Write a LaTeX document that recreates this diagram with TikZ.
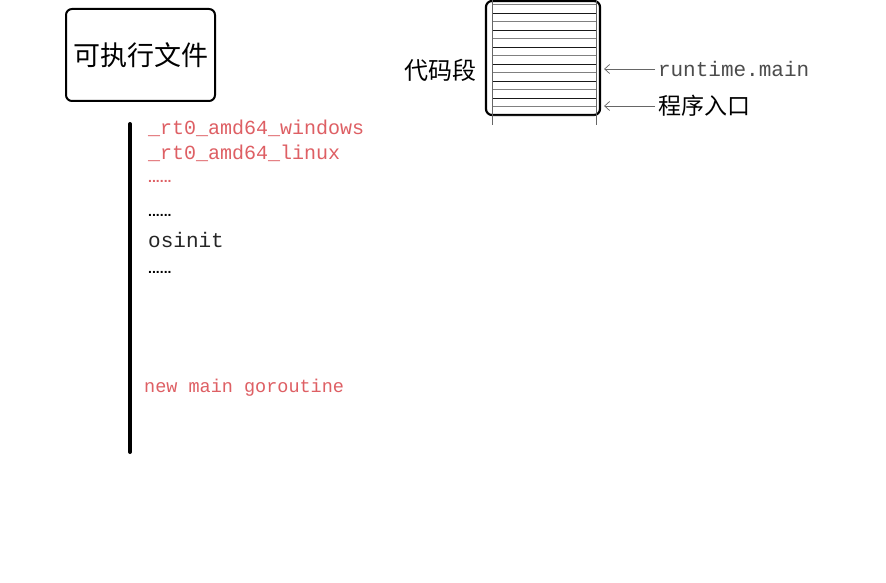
\documentclass[tikz,border=0pt]{standalone}
\usepackage{fontspec}
\usetikzlibrary{arrows.meta}
\setmainfont{Liberation Serif}
\setmonofont{Liberation Mono}
\setsansfont{Liberation Sans}
\newfontfamily\cjk{Noto Sans CJK SC}
\begin{document}
\begin{tikzpicture}[x=1pt,y=-1pt,
  redtxt/.style={text=redc, font=\ttfamily\fontsize{20}{20}\selectfont, anchor=west, inner sep=0pt},
  blktxt/.style={text=black!85, font=\ttfamily\fontsize{21}{21}\selectfont, anchor=west, inner sep=0pt},
  dots/.style={font=\sffamily\bfseries\fontsize{14}{14}\selectfont, anchor=west, inner sep=0pt},
  cjktxt/.style={font=\cjk\fontsize{24}{24}\selectfont, inner sep=0pt},
  thinarrow/.style={-{Straight Barb[length=5pt,width=9pt]}, draw=black!60, line width=0.7pt},
  segline/.style={line width=0.7pt}
]
\definecolor{redc}{RGB}{222,95,100}
\useasboundingbox (0,0) rectangle (886,583);
\fill[white] (0,0) rectangle (886,583);

% executable box
\node[draw, line width=2pt, rounded corners=6pt, minimum width=149pt, minimum height=92pt, cjktxt, font=\cjk\fontsize{27}{27}\selectfont] (exe) at (140.5,55) {可执行文件};

% vertical timeline
\coordinate (ltop) at (130,124);
\coordinate (lbot) at (130,452);
\draw[line width=4pt, line cap=round] (ltop) -- (lbot);

% texts
\node[redtxt] (w) at (148,128) {\_rt0\_amd64\_windows};
\node[redtxt] (l) at (148,153) {\_rt0\_amd64\_linux};
\node[dots, text=redc] (d1) at (148,181) {......};
\node[dots] (d2) at (148,215) {......};
\node[blktxt] (os) at (148,240) {osinit};
\node[dots] (d3) at (148,272) {......};
\node[redtxt, font=\ttfamily\fontsize{18.5}{18.5}\selectfont] (ng) at (144,388) {new main goroutine};

% code segment
\node[draw, line width=2.2pt, rounded corners=6pt, minimum width=114pt, minimum height=114pt, inner sep=0pt] (seg) at (543,58) {};
\foreach \i in {0,...,13} {
  \pgfmathsetmacro{\yy}{4.5+8.5*\i}
  \ifodd\i
    \draw[segline, black!90] (492,\yy) -- (596,\yy);
  \else
    \draw[segline, black!50] (492,\yy) -- (596,\yy);
  \fi
}
\draw[line width=0.8pt, black!60] (492,0) -- (492,125);
\draw[line width=0.8pt, black!60] (596,0) -- (596,125);

\node[cjktxt, anchor=east] (dm) at (477,70) {代码段};

\node[blktxt, text=black!70, outer sep=3pt] (rm) at (655,69) {runtime.main};
\node[cjktxt, anchor=west, outer sep=3pt, font=\cjk\fontsize{23}{23}\selectfont] (en) at (655,106) {程序入口};

\draw[thinarrow] (rm.west) -- ([xshift=3pt]seg.east |- rm.west);
\draw[thinarrow] (en.west) -- ([xshift=3pt]seg.east |- en.west);
\end{tikzpicture}
\end{document}
